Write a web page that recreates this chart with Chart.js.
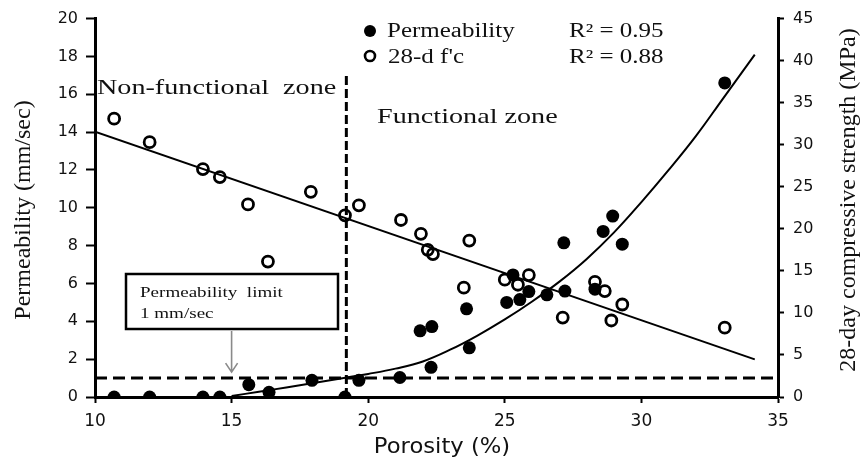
<!DOCTYPE html>
<html>
<head>
<meta charset="utf-8">
<script src="https://cdn.jsdelivr.net/npm/chart.js@4.4.1/dist/chart.umd.min.js"></script>
<style>
  html, body { margin: 0; padding: 0; background: #fff; }
  #wrap { width: 864px; height: 462px; position: relative; }
</style>
</head>
<body>
<div id="wrap"><canvas id="chart"></canvas></div>
<script>
// Permeability (mm/sec) of each specimen against its porosity (%)
const permPorosity = [10.7, 12.0, 13.95, 14.57, 19.15, 15.63, 16.37, 17.94, 19.66, 21.16,
                      21.9, 22.33, 22.3, 23.6, 23.7, 25.07, 25.3, 25.55, 25.88, 26.54,
                      27.2, 27.16, 28.3, 28.6, 28.95, 29.3, 33.05];
const permValues   = [0, 0, 0, 0, 0, 0.65, 0.25, 0.88, 0.88, 1.03,
                      3.5, 3.72, 1.57, 4.66, 2.6, 5.0, 6.45, 5.15, 5.57, 5.4,
                      5.6, 8.15, 5.7, 8.75, 9.56, 8.08, 16.6];

// 28-day compressive strength (MPa) against porosity (%)
const fcPorosity = [10.7, 12.0, 13.95, 14.57, 15.6, 16.33, 17.9, 19.15, 19.66, 21.2,
                    21.93, 22.18, 22.37, 23.5, 23.7, 25.0, 25.48, 25.88, 27.12, 28.3,
                    28.66, 28.9, 29.3, 33.05];
const fcValues   = [33.1, 30.3, 27.1, 26.15, 22.9, 16.1, 24.4, 21.6, 22.8, 21.05,
                    19.4, 17.5, 17.0, 13.0, 18.6, 13.95, 13.35, 14.5, 9.45, 13.7,
                    12.6, 9.1, 11.0, 8.25];

// Exponential fit of permeability, sampled along porosity
const permFitPorosity = [15, 16, 17, 18, 19, 20, 21, 22, 23, 24, 25, 26, 27, 28, 29, 30, 31, 32, 33, 34.15];
const permFitValues   = [0.05, 0.28, 0.5, 0.74, 0.98, 1.22, 1.5, 1.88, 2.5, 3.25, 4.1, 5.05, 6.1, 7.3, 8.7, 10.3, 12.0, 13.8, 15.8, 18.1];

// Linear fit of strength
const fcFitPorosity = [10, 34.15];
const fcFitValues   = [31.55, 4.47];

// Permeability limit and the functional / non-functional boundary
const permLimit = 1;
const limitSpan = [10, 35];
const zoneBoundary = 19.2;
const zoneBoundarySpan = [0, 17];

// Goodness of fit
const r2Perm = 0.95;
const r2Fc = 0.88;

// Axis ticks
const xTicks  = [10, 15, 20, 25, 30, 35];
const yTicks  = [0, 2, 4, 6, 8, 10, 12, 14, 16, 18, 20];
const y2Ticks = [0, 5, 10, 15, 20, 25, 30, 35, 40, 45];

const pts = (xs, ys) => xs.map((v, i) => ({ x: v, y: ys[i] }));

const INK = '#111';
const SERIF = '"Liberation Serif", "Times New Roman", serif';
const SANS = '"DejaVu Sans", Verdana, sans-serif';

function drawText(ctx, s, x, y, size, sx, align, family) {
  ctx.save();
  ctx.font = size + 'px ' + (family || SERIF);
  ctx.fillStyle = INK;
  ctx.textBaseline = 'alphabetic';
  ctx.textAlign = align || 'left';
  ctx.translate(x, y);
  ctx.scale(sx || 1, 1);
  ctx.fillText(s, 0, 0);
  ctx.restore();
}

function drawVertical(ctx, s, cx, cy, size, family) {
  ctx.save();
  ctx.font = size + 'px ' + (family || SERIF);
  ctx.fillStyle = INK;
  ctx.textAlign = 'center';
  ctx.textBaseline = 'middle';
  ctx.translate(cx, cy);
  ctx.rotate(-Math.PI / 2);
  ctx.fillText(s, 0, 0);
  ctx.restore();
}

const annotations = {
  id: 'annotations',
  afterDraw(chart) {
    const { ctx, scales: { x, y } } = chart;

    // axis titles
    drawVertical(ctx, 'Permeability (mm/sec)', 24, 210, 24);
    drawVertical(ctx, '28-day compressive strength (MPa)', 849, 200, 24);
    drawText(ctx, 'Porosity (%)', 442, 453, 21, 1.08, 'center', SANS);

    // legend
    ctx.save();
    ctx.fillStyle = '#000';
    ctx.beginPath(); ctx.arc(370, 31, 6, 0, Math.PI * 2); ctx.fill();
    ctx.strokeStyle = '#000'; ctx.lineWidth = 2.6;
    ctx.beginPath(); ctx.arc(370, 56, 5, 0, Math.PI * 2); ctx.stroke();
    ctx.restore();
    drawText(ctx, 'Permeability', 387, 37, 20, 1.25);
    drawText(ctx, "28-d f'c", 388, 63, 20, 1.25);
    drawText(ctx, 'R\u00B2 = ' + r2Perm.toFixed(2), 569, 37, 20, 1.25);
    drawText(ctx, 'R\u00B2 = ' + r2Fc.toFixed(2), 569, 63, 20, 1.25);

    // zone labels
    drawText(ctx, 'Non-functional  zone', 97, 94, 22, 1.28);
    drawText(ctx, 'Functional zone', 377, 123, 22, 1.28);

    // permeability limit callout
    ctx.save();
    ctx.strokeStyle = '#000';
    ctx.lineWidth = 2.5;
    ctx.strokeRect(126, 274, 212, 55);
    ctx.restore();
    drawText(ctx, 'Permeability  limit', 140, 297, 15, 1.27);
    drawText(ctx, '1 mm/sec', 140, 318, 15, 1.27);

    const ax = x.getPixelForValue(15);
    const tipY = y.getPixelForValue(permLimit) - 6;
    ctx.save();
    ctx.strokeStyle = '#8a8a8a';
    ctx.lineWidth = 1.6;
    ctx.beginPath();
    ctx.moveTo(ax, 331); ctx.lineTo(ax, tipY);
    ctx.moveTo(ax - 6, tipY - 9); ctx.lineTo(ax, tipY); ctx.lineTo(ax + 6, tipY - 9);
    ctx.stroke();
    ctx.restore();
  }
};

const tickFont = (size) => ({ family: SANS, size: size });

new Chart(document.getElementById('chart'), {
  type: 'scatter',
  data: {
    datasets: [
      {
        label: 'Permeability',
        data: pts(permPorosity, permValues),
        yAxisID: 'y',
        pointRadius: 6.5,
        pointHoverRadius: 6.5,
        pointBackgroundColor: '#000',
        pointBorderWidth: 0,
        showLine: false
      },
      {
        label: "28-d f'c",
        data: pts(fcPorosity, fcValues),
        yAxisID: 'y2',
        pointRadius: 5.5,
        pointHoverRadius: 5.5,
        pointBackgroundColor: 'rgba(0,0,0,0)',
        pointBorderColor: '#000',
        pointBorderWidth: 2.8,
        showLine: false
      },
      {
        label: 'Permeability fit',
        data: pts(permFitPorosity, permFitValues),
        yAxisID: 'y',
        showLine: true,
        borderColor: '#000',
        borderWidth: 2,
        pointRadius: 0,
        tension: 0.4
      },
      {
        label: 'Strength fit',
        data: pts(fcFitPorosity, fcFitValues),
        yAxisID: 'y2',
        showLine: true,
        borderColor: '#000',
        borderWidth: 2,
        pointRadius: 0
      },
      {
        label: 'Permeability limit',
        data: pts(limitSpan, [permLimit, permLimit]),
        yAxisID: 'y',
        showLine: true,
        borderColor: '#000',
        borderWidth: 3,
        borderDash: [12, 6],
        pointRadius: 0
      },
      {
        label: 'Zone boundary',
        data: pts([zoneBoundary, zoneBoundary], zoneBoundarySpan),
        yAxisID: 'y',
        showLine: true,
        borderColor: '#000',
        borderWidth: 3,
        borderDash: [9, 4],
        pointRadius: 0
      }
    ]
  },
  options: {
    responsive: true,
    maintainAspectRatio: false,
    animation: false,
    events: [],
    layout: { padding: { top: 17, left: 0, right: 0, bottom: 0 } },
    plugins: { legend: { display: false }, tooltip: { enabled: false } },
    scales: {
      x: {
        type: 'linear',
        min: 10, max: 35,
        afterBuildTicks: s => { s.ticks = xTicks.map(v => ({ value: v })); },
        afterFit: s => { s.height = 65; },
        border: { display: true, color: '#000', width: 3 },
        grid: { display: true, drawOnChartArea: false, drawTicks: true, tickLength: 6, tickWidth: 2, tickColor: '#000' },
        ticks: { color: INK, font: tickFont(17), padding: 8, maxRotation: 0 }
      },
      y: {
        type: 'linear',
        position: 'left',
        min: 0, max: 20,
        afterBuildTicks: s => { s.ticks = yTicks.map(v => ({ value: v })); },
        afterFit: s => { s.width = 95; },
        border: { display: true, color: '#000', width: 3 },
        grid: { display: true, drawOnChartArea: false, drawTicks: true, tickLength: 9, tickWidth: 2, tickColor: '#000' },
        ticks: { color: INK, font: tickFont(16), padding: 8 }
      },
      y2: {
        type: 'linear',
        position: 'right',
        min: 0, max: 45,
        afterBuildTicks: s => { s.ticks = y2Ticks.map(v => ({ value: v })); },
        afterFit: s => { s.width = 86; },
        border: { display: true, color: '#000', width: 3 },
        grid: { display: true, drawOnChartArea: false, drawTicks: true, tickLength: 6, tickWidth: 2, tickColor: '#000' },
        ticks: { color: INK, font: tickFont(16), padding: 9 }
      }
    }
  },
  plugins: [annotations]
});
</script>
</body>
</html>
